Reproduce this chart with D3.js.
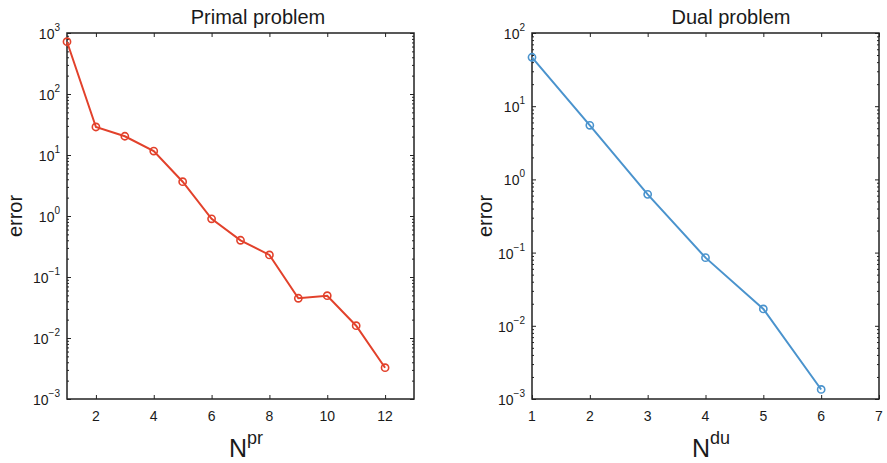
<!DOCTYPE html>
<html>
<head>
<meta charset="utf-8">
<script src="https://cdn.jsdelivr.net/npm/d3@7"></script>
<style>
  body { margin: 0; background: #fff; }
  svg text { font-family: "Liberation Sans", Arial, Helvetica, sans-serif; fill: #1a1a1a; }
</style>
</head>
<body>
<script>
// values
const primalN   = [1, 2, 3, 4, 5, 6, 7, 8, 9, 10, 11, 12]
const primalErr = [720, 28.8, 20.3, 11.6, 3.65, 0.90, 0.40, 0.23, 0.0448, 0.0494, 0.0159, 0.00326]
const dualN     = [1, 2, 3, 4, 5, 6]
const dualErr   = [46.6, 5.48, 0.625, 0.0853, 0.0170, 0.00135]

const primalXTicks = [2, 4, 6, 8, 10, 12]
const dualXTicks   = [1, 2, 3, 4, 5, 6, 7]
const primalYExp   = [3, 2, 1, 0, -1, -2, -3]
const dualYExp     = [2, 1, 0, -1, -2, -3]

const svg = d3.select("body").append("svg")
    .attr("width", 887)
    .attr("height", 463)

function panel(o) {
  const x = d3.scaleLinear().domain(o.xDomain).range([o.left, o.right]),
        y = d3.scaleLog().domain(o.yDomain).range([399, 33])
  const g = svg.append("g")

  // minor ticks 2..9 in every decade
  const minor = []
  o.yExp.forEach(e => { for (let m = 2; m < 10; m++) { const v = m * Math.pow(10, e); if (v < o.yDomain[1]) minor.push(v) } })

  const tickStyle = sel => {
    sel.select(".domain").remove()
    sel.selectAll("line").attr("stroke", "#222").attr("stroke-width", 1)
    sel.selectAll("text").remove()
  }

  g.append("g").attr("transform", `translate(${o.left},0)`)
      .call(d3.axisLeft(y).tickValues(minor).tickSize(-2)).call(tickStyle)
  g.append("g").attr("transform", `translate(${o.right},0)`)
      .call(d3.axisRight(y).tickValues(minor).tickSize(-2)).call(tickStyle)
  const majors = o.yExp.map(e => Math.pow(10, e))
  g.append("g").attr("transform", `translate(${o.left},0)`)
      .call(d3.axisLeft(y).tickValues(majors).tickSize(-4)).call(tickStyle)
  g.append("g").attr("transform", `translate(${o.right},0)`)
      .call(d3.axisRight(y).tickValues(majors).tickSize(-4)).call(tickStyle)
  g.append("g").attr("transform", "translate(0,399)")
      .call(d3.axisBottom(x).tickValues(o.xTicks).tickSize(-4)).call(tickStyle)
  g.append("g").attr("transform", "translate(0,33)")
      .call(d3.axisTop(x).tickValues(o.xTicks).tickSize(-4)).call(tickStyle)

  // frame
  g.append("rect")
      .attr("x", o.left).attr("y", 33)
      .attr("width", o.right - o.left).attr("height", 366)
      .attr("fill", "none").attr("stroke", "#222").attr("stroke-width", 1.5)

  // y tick labels 10^e
  o.yExp.forEach(e => {
    const t = g.append("text")
        .attr("x", o.left - 7).attr("y", y(Math.pow(10, e)) + 6)
        .attr("text-anchor", "end").attr("font-size", 14)
    t.append("tspan").text("10")
    t.append("tspan").attr("dy", -8).attr("font-size", 10).text(e < 0 ? "\u2212" + (-e) : e)
  })

  // x tick labels
  o.xTicks.forEach(v => {
    g.append("text")
        .attr("x", x(v)).attr("y", 421)
        .attr("text-anchor", "middle").attr("font-size", 14)
        .text(v)
  })

  // titles
  g.append("text")
      .attr("x", o.titleX).attr("y", 24)
      .attr("text-anchor", "middle").attr("font-size", 20)
      .text(o.title)

  const xl = g.append("text")
      .attr("x", o.xLabelX).attr("y", 457)
      .attr("text-anchor", "middle").attr("font-size", 25)
  xl.append("tspan").text("N")
  xl.append("tspan").attr("dy", -13).attr("font-size", 18).text(o.sup)

  g.append("text")
      .attr("transform", `translate(${o.yLabelX},216) rotate(-90)`)
      .attr("text-anchor", "middle").attr("font-size", 20)
      .text("error")

  // series
  const pts = o.n.map((v, i) => ({n: v, e: o.err[i]}))
  g.append("path")
      .datum(pts)
      .attr("fill", "none")
      .attr("stroke", o.color)
      .attr("stroke-width", 2)
      .attr("d", d3.line().x(d => x(d.n)).y(d => y(d.e)))
  g.selectAll(".dot")
    .data(pts)
    .join("circle")
      .attr("cx", d => x(d.n))
      .attr("cy", d => y(d.e))
      .attr("r", 3.6)
      .attr("fill", "none")
      .attr("stroke", o.color)
      .attr("stroke-width", 1.6)
}

panel({
  left: 67, right: 414, xDomain: [1, 13], yDomain: [1e-3, 1e3],
  xTicks: primalXTicks, yExp: primalYExp, n: primalN, err: primalErr,
  color: "#e2412b", title: "Primal problem", titleX: 258, xLabelX: 246, sup: "pr", yLabelX: 22
})

panel({
  left: 532, right: 879, xDomain: [1, 7], yDomain: [1e-3, 1e2],
  xTicks: dualXTicks, yExp: dualYExp, n: dualN, err: dualErr,
  color: "#4a93cd", title: "Dual problem", titleX: 731, xLabelX: 711, sup: "du", yLabelX: 492
})
</script>
</body>
</html>
